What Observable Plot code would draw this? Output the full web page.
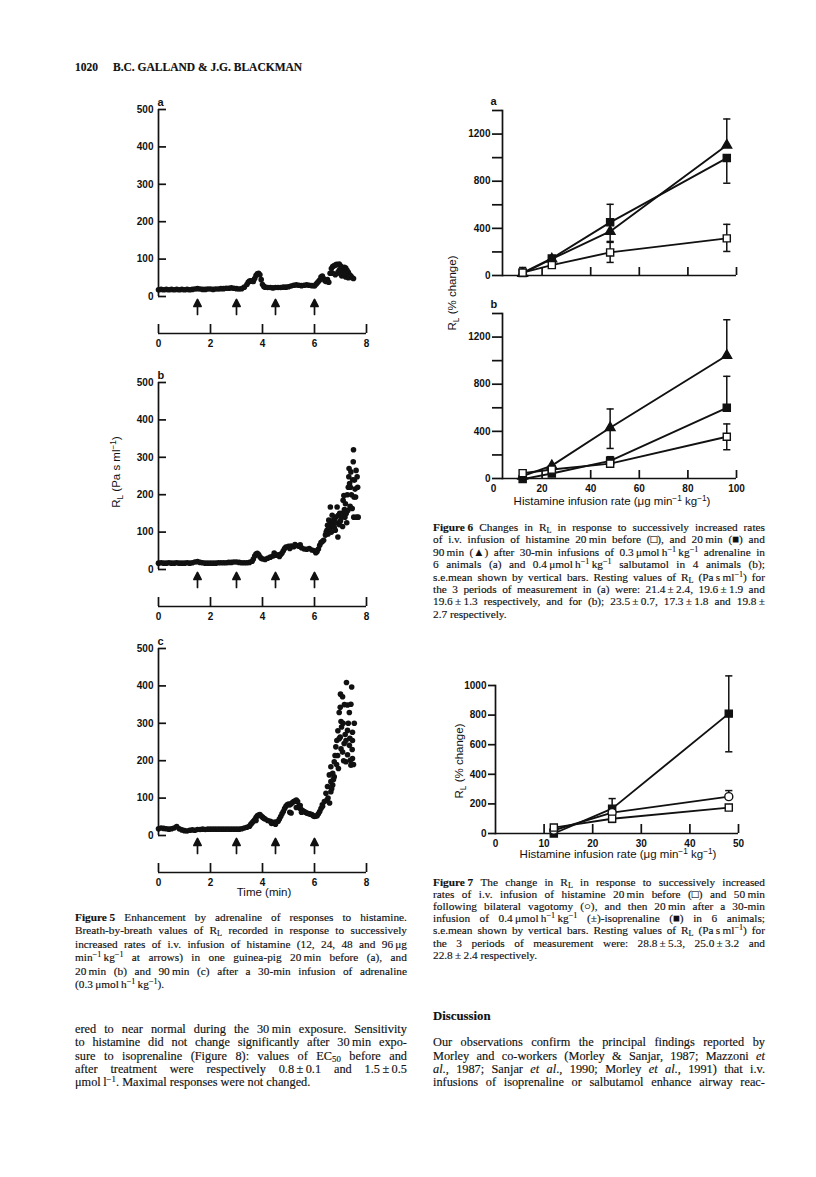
<!DOCTYPE html>
<html>
<head>
<meta charset="utf-8">
<script src="https://cdn.jsdelivr.net/npm/d3@7"></script>
<script src="https://cdn.jsdelivr.net/npm/@observablehq/plot@0.6"></script>
<style>
  html, body { margin: 0; padding: 0; background: #fff; }
  #page { position: relative; width: 816px; height: 1177px; background: #fff; overflow: hidden; color: #111; }
  .serif { font-family: "Liberation Serif", "Times New Roman", "DejaVu Serif", serif; -webkit-text-stroke: 0.15px #111; }
  .sans { font-family: "Liberation Sans", Arial, Helvetica, sans-serif; }
  .ln { position: absolute; white-space: nowrap; }
  .jl { display: flex; justify-content: space-between; gap: 0.22em; }
  sub { font-size: 0.72em; vertical-align: -0.28em; line-height: 0; }
  sup { font-size: 0.72em; vertical-align: 0.5em; line-height: 0; }
  .lab { position: absolute; white-space: nowrap; line-height: 1; }
</style>
</head>
<body>
<div id="page"></div>
<script>
// ---------------- DATA ----------------
// Figure 5: breath-by-breath RL (Pa s ml-1) against time (min)
const fig5a = [
[0,18],[0.1,19],[0.2,18],[0.3,19],[0.4,18],[0.5,19],[0.6,18],[0.7,19],[0.8,18],[0.9,19],
[1.0,18],[1.1,19],[1.2,18],[1.3,19],[1.4,20],[1.5,21],[1.6,20],[1.7,19],[1.8,19],[1.9,20],
[2.0,20],[2.1,19],[2.2,20],[2.3,20],[2.4,21],[2.5,21],[2.6,22],[2.7,22],[2.8,23],[2.9,22],
[3.0,21],[3.1,20],[3.2,21],[3.3,25],[3.4,32],[3.45,38],[3.5,41],[3.55,42],[3.6,41],[3.65,40],
[3.7,48],[3.75,56],[3.8,61],[3.85,62],[3.9,58],[3.95,45],[4.0,32],[4.05,27],[4.1,25],[4.2,24],
[4.3,24],[4.4,23],[4.5,24],[4.6,24],[4.7,24],[4.8,25],[4.9,25],[5.0,26],[5.1,28],[5.2,30],
[5.3,31],[5.4,30],[5.5,29],[5.6,30],[5.7,31],[5.8,30],[5.9,29],[6.0,28],[6.05,32],[6.1,36],
[6.15,40],[6.2,44],[6.25,52],[6.3,55],[6.35,48],[6.4,42],[6.45,40],[6.5,45],[6.55,38],[6.6,62],
[6.65,75],[6.7,80],[6.75,82],[6.8,84],[6.85,86],[6.9,85],[6.95,87],[7.0,82],[7.05,78],[7.1,72],
[7.15,78],[7.2,76],[7.25,70],[7.3,65],[7.35,58],[7.4,55],[7.45,50],[7.5,48],
[6.7,62],[6.8,58],[6.9,65],[7.0,60],[7.05,55],[7.15,58],[7.2,52],[7.3,50],[6.95,70],[7.1,62]
];
const fig5b = [
[0,17],[0.1,18],[0.2,17],[0.3,17],[0.4,18],[0.5,17],[0.6,17],[0.7,18],[0.8,17],[0.9,17],
[1.0,17],[1.1,18],[1.2,17],[1.3,18],[1.4,20],[1.5,21],[1.6,19],[1.7,18],[1.8,17],[1.9,17],
[2.0,17],[2.1,17],[2.2,17],[2.3,18],[2.4,18],[2.5,18],[2.6,18],[2.7,19],[2.8,19],[2.9,20],
[3.0,20],[3.1,19],[3.2,18],[3.3,18],[3.4,18],[3.5,19],[3.6,22],[3.65,28],[3.7,36],[3.75,41],
[3.8,43],[3.85,40],[3.9,34],[3.95,30],[4.0,28],[4.1,27],[4.2,30],[4.3,33],[4.4,36],[4.5,38],
[4.6,39],[4.7,40],[4.75,44],[4.8,50],[4.85,56],[4.9,60],[5.0,62],[5.1,63],[5.2,61],[5.3,64],
[5.4,62],[5.5,58],[5.6,55],[5.7,54],[5.8,56],[5.9,52],[6.0,50],[6.05,45],[6.1,48],[6.15,55],
[6.2,65],[6.25,72],[6.3,75],[6.35,78],
[5.05,56],[5.25,67],[5.45,66],[4.45,44],[4.65,35],
[6.42,92],[6.45,100],[6.48,105],[6.5,118],[6.52,95],[6.55,132],[6.58,110],[6.61,167],[6.62,120],[6.65,100],
[6.68,145],[6.7,118],[6.72,130],[6.74,132],[6.76,112],[6.8,105],[6.82,140],[6.85,125],[6.87,167],[6.9,87],
[6.92,145],[6.95,120],[6.97,150],[7.0,130],[7.03,140],[7.06,150],[7.08,115],[7.1,185],[7.13,198],[7.15,160],
[7.17,140],[7.19,176],[7.22,150],[7.24,125],[7.26,200],[7.28,158],[7.3,220],[7.32,248],[7.33,270],[7.35,230],
[7.37,169],[7.38,220],[7.4,261],[7.42,200],[7.45,163],[7.47,240],[7.49,288],[7.5,320],[7.51,140],[7.52,194],
[7.54,239],[7.56,215],[7.58,194],[7.6,265],[7.62,140],[7.64,248],[7.66,220],[7.68,140]
];
const fig5c = [
[0,18],[0.1,20],[0.2,19],[0.3,18],[0.4,17],[0.5,18],[0.6,20],[0.7,24],[0.8,18],[0.9,15],
[1.0,13],[1.1,12],[1.2,14],[1.3,15],[1.4,14],[1.5,16],[1.6,16],[1.7,17],[1.8,16],[1.9,17],
[2.0,17],[2.1,17],[2.2,17],[2.3,17],[2.4,17],[2.5,17],[2.6,17],[2.7,17],[2.8,17],[2.9,17],
[3.0,17],[3.1,17],[3.2,18],[3.3,20],[3.4,22],[3.5,25],[3.55,30],[3.6,34],[3.65,38],[3.7,42],
[3.75,48],[3.8,53],[3.85,55],[3.9,56],[3.95,52],[4.0,49],[4.05,46],[4.1,44],[4.2,40],[4.3,38],
[4.4,35],[4.45,34],[4.5,36],[4.6,38],[4.65,44],[4.7,51],[4.75,58],[4.8,64],[4.85,72],[4.9,78],
[4.95,82],[5.0,84],[5.05,82],[5.1,85],[5.15,88],[5.2,91],[5.25,92],[5.3,95],[5.35,91],[5.4,78],
[5.45,72],[5.5,69],[5.55,66],[5.6,64],[5.65,62],[5.7,60],[5.75,59],[5.8,58],[5.85,57],[5.9,56],
[5.95,53],[6.0,51],[6.05,52],[6.1,53],[6.15,58],[6.2,64],[6.25,72],[6.3,82],
[5.05,62],[5.1,60],[5.45,80],[5.5,62],[5.3,75],[4.35,32],[4.5,30],[3.75,40],
[6.31,78],[6.38,91],[6.44,113],[6.48,95],[6.5,131],[6.57,162],[6.58,87],[6.63,117],[6.63,144],[6.63,184],
[6.7,166],[6.7,135],[6.76,157],[6.76,197],[6.79,214],[6.82,237],[6.86,254],[6.89,214],[6.92,179],[6.95,259],
[6.95,329],[6.99,263],[6.99,343],[7.0,378],[7.02,232],[7.02,305],[7.04,290],[7.08,371],[7.08,223],[7.14,246],
[7.21,254],[7.21,197],[7.23,409],[7.27,349],[7.27,281],[7.27,216],[7.34,329],[7.34,241],[7.38,201],[7.4,351],
[7.4,188],[7.43,397],[7.46,276],[7.46,254],[7.46,206],[7.53,300],[6.52,100],[6.66,125],[6.73,150],[6.85,190],
[6.9,280],[7.1,300],[7.15,350],[7.18,270],[7.3,300],[7.36,260],[7.45,230],[7.5,190],[7.12,200]
];
const infusionTimes = [1.5, 3, 4.5, 6];
const fig5YTicks = [0, 100, 200, 300, 400, 500];
const fig5XTicks = [0, 2, 4, 6, 8];

// Figure 6: RL (% change) vs histamine infusion rate
const doses6 = [12, 24, 48, 96];
const a_before = [25, 88, 196, 315];
const a_before_lo = [25, 88, 111, 204];
const a_before_hi = [68, 88, 281, 434];
const a_20 = [22, 145, 451, 996];
const a_20_lo = [22, 145, 451, 783];
const a_20_hi = [22, 145, 604, 996];
const a_90 = [18, 140, 374, 1106];
const a_90_lo = [18, 140, 289, 1106];
const a_90_hi = [18, 140, 374, 1328];
const b_before = [45, 76, 126, 354];
const b_before_lo = [45, 76, 126, 244];
const b_before_hi = [45, 76, 126, 463];
const b_20 = [-5, 42, 150, 600];
const b_20_lo = [-5, 42, 150, 600];
const b_20_hi = [-5, 42, 185, 867];
const b_90 = [20, 109, 430, 1044];
const b_90_lo = [20, 109, 255, 1044];
const b_90_hi = [20, 109, 590, 1347];
const fig6YTicks = [0, 200, 400, 600, 800, 1000, 1200, 1400];
const fig6YLabels = [0, 400, 800, 1200];
const fig6XTicks = [20, 40, 60, 80, 100];
const fig6XLabels = [0, 20, 40, 60, 80, 100];

// Figure 7
const doses7 = [12, 24, 48];
const c_before = [40, 100, 175];
const c_before_lo = [40, 75, 175];
const c_before_hi = [40, 100, 175];
const c_vag = [22, 141, 249];
const c_vag_lo = [22, 141, 249];
const c_vag_hi = [22, 141, 290];
const c_iso = [0, 168, 810];
const c_iso_lo = [0, 168, 552];
const c_iso_hi = [0, 236, 1065];
const fig7YTicks = [0, 200, 400, 600, 800, 1000];
const fig7XTicks = [10, 20, 30, 40, 50];
const fig7XLabels = [0, 10, 20, 30, 40, 50];

// ---------------- DRAWING ----------------
const ink = "#111";
const fontSans = "'Liberation Sans', Arial, Helvetica, sans-serif";
const page = document.getElementById("page");

function place(el, left, top) {
  el.style.position = "absolute";
  el.style.left = left + "px";
  el.style.top = top + "px";
  el.style.maxWidth = "none";
  el.style.background = "transparent";
  page.appendChild(el);
}

const arrowShape = {
  draw(ctx, l) {
    const h = 7, w = 3.6;
    ctx.moveTo(0, 0); ctx.lineTo(0, -l + h);
    ctx.moveTo(-w, -l + h); ctx.lineTo(0, -l); ctx.lineTo(w, -l + h); ctx.closePath();
  }
};
const capSymbol = {
  draw(ctx, size) { const w = Math.sqrt(size / Math.PI); ctx.moveTo(-w, 0); ctx.lineTo(w, 0); }
};

const plotStyle = {fontFamily: fontSans, fontSize: "10px", fontWeight: "bold", color: ink, background: "transparent"};

function fig5Panel(pairs, label, plotH) {
  const pts = pairs.map(([t, v]) => ({t, v}));
  const W = 280, mL = 58, mR = 14, mT = 14, mB = 56;
  return Plot.plot({
    width: W, height: mT + plotH + mB,
    marginLeft: mL, marginRight: mR, marginTop: mT, marginBottom: mB,
    x: {domain: [0, 8], axis: null},
    y: {domain: [0, 500], axis: null},
    style: plotStyle,
    marks: [
      Plot.ruleX([0], {stroke: ink, strokeWidth: 1.7}),
      Plot.tickY(fig5YTicks, {y: d => d, stroke: ink, strokeWidth: 1.7, insetRight: (W - mL - mR) - 8}),
      Plot.axisY({ticks: fig5YTicks, tickSize: 0, tickPadding: 5, label: null}),
      Plot.dot(pts, {x: "t", y: "v", r: 2.8, fill: ink}),
      Plot.vector(infusionTimes, {x: d => d, frameAnchor: "bottom", dy: 18, length: 15, rotate: 0, anchor: "start", shape: arrowShape, stroke: ink, fill: ink, strokeWidth: 1.7}),
      Plot.ruleY([0], {dy: 37, stroke: ink, strokeWidth: 1.7}),
      Plot.tickX(fig5XTicks, {x: d => d, dy: 37, insetTop: plotH - 9, stroke: ink, strokeWidth: 1.7}),
      Plot.axisX({ticks: fig5XTicks, tickSize: 0, tickPadding: 6, dy: 37, label: null}),
      Plot.text([label], {frameAnchor: "top-left", dx: -1, dy: -4, lineAnchor: "bottom", textAnchor: "start", fontSize: 11, fontWeight: "bold", fill: ink})
    ]
  });
}

function seriesMarks(doses, series) {
  const rows = [];
  series.forEach((s, k) => doses.forEach((d, i) => rows.push({k, dose: d, v: s.values[i], lo: s.lo[i], hi: s.hi[i]})));
  const bars = rows.filter(r => r.lo !== r.hi);
  const caps = [];
  bars.forEach(r => {
    if (r.lo !== r.v) caps.push({dose: r.dose, y: r.lo});
    if (r.hi !== r.v) caps.push({dose: r.dose, y: r.hi});
  });
  const marks = [
    Plot.line(rows, {x: "dose", y: "v", z: "k", stroke: ink, strokeWidth: 1.9}),
    Plot.ruleX(bars, {x: "dose", y1: "lo", y2: "hi", stroke: ink, strokeWidth: 1.5}),
    Plot.dot(caps, {x: "dose", y: "y", symbol: capSymbol, r: 3.6, stroke: ink, strokeWidth: 1.5, fill: "none"})
  ];
  series.forEach((s, k) => marks.push(
    Plot.dot(rows.filter(r => r.k === k), {x: "dose", y: "v", symbol: s.symbol, r: s.r, fill: s.fill, stroke: ink, strokeWidth: 1.4})
  ));
  return marks;
}

function fig6Panel(series, label, withLabels) {
  const W = 310, mL = 62, mR = 14, mT = 20, plotH = 165, mB = withLabels ? 30 : 5;
  const marks = [
    Plot.frame({anchor: "left", stroke: ink, strokeWidth: 1.7}),
    Plot.ruleY([0], {stroke: ink, strokeWidth: 1.7}),
    Plot.axisY({ticks: fig6YTicks, tickSize: 10, tickPadding: 2, stroke: ink, strokeWidth: 1.7,
      tickFormat: d => fig6YLabels.includes(d) ? String(d) : "", label: null}),
    Plot.tickX(fig6XTicks, {x: d => d, insetTop: plotH - 8, stroke: ink, strokeWidth: 1.7})
  ];
  if (withLabels) marks.push(Plot.axisX({ticks: fig6XLabels, tickSize: 0, tickPadding: 6, tickFormat: d => String(d), label: null}));
  marks.push(...seriesMarks(doses6, series));
  marks.push(Plot.text([label], {frameAnchor: "top-left", dx: -12, dy: -6, lineAnchor: "bottom", textAnchor: "start", fontSize: 11, fontWeight: "bold", fill: ink}));
  return Plot.plot({
    width: W, height: mT + plotH + mB,
    marginLeft: mL, marginRight: mR, marginTop: mT, marginBottom: mB,
    x: {domain: [0, 100], range: [53, 296], axis: null},
    y: {domain: [0, 1400], axis: null},
    style: plotStyle,
    marks
  });
}

function fig7Panel(series) {
  const W = 310, mL = 55, mR = 12, mT = 15, plotH = 148, mB = 22;
  const marks = [
    Plot.frame({anchor: "left", stroke: ink, strokeWidth: 1.7}),
    Plot.ruleY([0], {stroke: ink, strokeWidth: 1.7}),
    Plot.axisY({ticks: fig7YTicks, tickSize: 7, tickPadding: 2, stroke: ink, strokeWidth: 1.7, tickFormat: d => String(d), label: null}),
    Plot.tickX(fig7XTicks, {x: d => d, insetTop: plotH - 9, stroke: ink, strokeWidth: 1.7}),
    Plot.axisX({ticks: fig7XLabels, tickSize: 0, tickPadding: 6, tickFormat: d => String(d), label: null}),
    ...seriesMarks(doses7, series)
  ];
  return Plot.plot({
    width: W, height: mT + plotH + mB,
    marginLeft: mL, marginRight: mR, marginTop: mT, marginBottom: mB,
    x: {domain: [0, 50], axis: null},
    y: {domain: [0, 1000], axis: null},
    style: plotStyle,
    marks
  });
}

// Figure 5 panels
place(fig5Panel(fig5a, "a", 187), 100, 95);
place(fig5Panel(fig5b, "b", 187), 100, 368);
place(fig5Panel(fig5c, "c", 187), 100, 634);

// Figure 6 panels
const openSq = {symbol: "square", r: 4, fill: "white"};
const fillSq = {symbol: "square", r: 4, fill: ink};
const fillTri = {symbol: "triangle", r: 3.6, fill: ink};
const openCirc = {symbol: "circle", r: 4, fill: "white"};
place(fig6Panel([
  {...fillTri, values: a_90, lo: a_90_lo, hi: a_90_hi},
  {...fillSq, values: a_20, lo: a_20_lo, hi: a_20_hi},
  {...openSq, values: a_before, lo: a_before_lo, hi: a_before_hi}
], "a", false), 440, 90);
place(fig6Panel([
  {...fillTri, values: b_90, lo: b_90_lo, hi: b_90_hi},
  {...fillSq, values: b_20, lo: b_20_lo, hi: b_20_hi},
  {...openSq, values: b_before, lo: b_before_lo, hi: b_before_hi}
], "b", true), 440, 293);

// Figure 7
place(fig7Panel([
  {...fillSq, values: c_iso, lo: c_iso_lo, hi: c_iso_hi},
  {...openCirc, values: c_vag, lo: c_vag_lo, hi: c_vag_hi},
  {...openSq, values: c_before, lo: c_before_lo, hi: c_before_hi}
]), 440, 670);

// ---------------- TEXT ----------------
function addLabel(html, cx, cy, size, rotate) {
  const d = document.createElement("div");
  d.className = "lab sans";
  d.style.left = cx + "px";
  d.style.top = cy + "px";
  d.style.fontSize = size + "px";
  d.style.transform = "translate(-50%,-50%)" + (rotate ? " rotate(-90deg)" : "");
  d.innerHTML = html;
  page.appendChild(d);
}
function addPara(lines, o) {
  lines.forEach((line, i) => {
    const d = document.createElement("div");
    d.className = "ln serif";
    d.style.left = o.left + "px";
    d.style.top = (o.top + i * o.lh) + "px";
    d.style.width = o.width + "px";
    d.style.height = o.lh + "px";
    d.style.lineHeight = o.lh + "px";
    d.style.fontSize = o.size + "px";
    if (o.weight) d.style.fontWeight = o.weight;
    const plain = o.noJustify || (i === lines.length - 1 && !o.justifyLast);
    if (plain) {
      d.innerHTML = line;
    } else {
      d.classList.add("jl");
      line.split(" ").forEach(tok => {
        const s = document.createElement("span");
        s.innerHTML = tok;
        d.appendChild(s);
      });
    }
    page.appendChild(d);
  });
}

// Running head
addPara(["<b>1020</b>"], {left: 75, top: 60, width: 40, size: 11.5, lh: 14, noJustify: true});
addPara(["<b>B.C. GALLAND &amp; J.G. BLACKMAN</b>"], {left: 113, top: 60, width: 260, size: 11.5, lh: 14, noJustify: true});

// Axis titles
addLabel("R<sub>L</sub> (Pa s ml<sup>−1</sup>)", 117, 472, 11.5, true);
addLabel("Time (min)", 264, 893, 11.5, false);
addLabel("R<sub>L</sub> (% change)", 453, 293, 11.5, true);
addLabel("Histamine infusion rate (μg min<sup>−1</sup> kg<sup>−1</sup>)", 612, 502, 11.5, false);
addLabel("R<sub>L</sub> (% change)", 460, 761, 11.5, true);
addLabel("Histamine infusion rate (μg min<sup>−1</sup> kg<sup>−1</sup>)", 618, 855, 11.5, false);

// Captions
addPara([
  "<b>Figure&nbsp;5</b> Enhancement by adrenaline of responses to histamine.",
  "Breath-by-breath values of R<sub>L</sub> recorded in response to successively",
  "increased rates of i.v. infusion of histamine (12, 24, 48 and 96&thinsp;μg",
  "min<sup>−1</sup>&thinsp;kg<sup>−1</sup> at arrows) in one guinea-pig 20&thinsp;min before (a), and",
  "20&thinsp;min (b) and 90&thinsp;min (c) after a 30-min infusion of adrenaline",
  "(0.3&thinsp;μmol&thinsp;h<sup>−1</sup>&thinsp;kg<sup>−1</sup>)."
], {left: 75, top: 910.5, width: 332, size: 11.3, lh: 13.5});

addPara([
  "<b>Figure&nbsp;6</b> Changes in R<sub>L</sub> in response to successively increased rates",
  "of i.v. infusion of histamine 20&thinsp;min before (□), and 20&thinsp;min (■) and",
  "90&thinsp;min (▲) after 30-min infusions of 0.3&thinsp;μmol&thinsp;h<sup>−1</sup>&thinsp;kg<sup>−1</sup> adrenaline in",
  "6 animals (a) and 0.4&thinsp;μmol&thinsp;h<sup>−1</sup>&thinsp;kg<sup>−1</sup> salbutamol in 4 animals (b);",
  "s.e.mean shown by vertical bars. Resting values of R<sub>L</sub> (Pa&thinsp;s&thinsp;ml<sup>−1</sup>) for",
  "the 3 periods of measurement in (a) were: 21.4&thinsp;±&thinsp;2.4, 19.6&thinsp;±&thinsp;1.9 and",
  "19.6&thinsp;±&thinsp;1.3 respectively, and for (b); 23.5&thinsp;±&thinsp;0.7, 17.3&thinsp;±&thinsp;1.8 and 19.8&thinsp;±",
  "2.7 respectively."
], {left: 433, top: 521, width: 332, size: 11.3, lh: 12.4});

addPara([
  "<b>Figure&nbsp;7</b> The change in R<sub>L</sub> in response to successively increased",
  "rates of i.v. infusion of histamine 20&thinsp;min before (□) and 50&thinsp;min",
  "following bilateral vagotomy (○), and then 20&thinsp;min after a 30-min",
  "infusion of 0.4&thinsp;μmol&thinsp;h<sup>−1</sup>&thinsp;kg<sup>−1</sup> (±)-isoprenaline (■) in 6 animals;",
  "s.e.mean shown by vertical bars. Resting values of R<sub>L</sub> (Pa&thinsp;s&thinsp;ml<sup>−1</sup>) for",
  "the 3 periods of measurement were: 28.8&thinsp;±&thinsp;5.3, 25.0&thinsp;±&thinsp;3.2 and",
  "22.8&thinsp;±&thinsp;2.4 respectively."
], {left: 433, top: 876, width: 332, size: 11.3, lh: 12.1});

// Body text
addPara([
  "ered to near normal during the 30&thinsp;min exposure. Sensitivity",
  "to histamine did not change significantly after 30&thinsp;min expo-",
  "sure to isoprenaline (Figure 8): values of EC<sub>50</sub> before and",
  "after treatment were respectively 0.8&thinsp;±&thinsp;0.1 and 1.5&thinsp;±&thinsp;0.5",
  "μmol&thinsp;l<sup>−1</sup>. Maximal responses were not changed."
], {left: 75, top: 1022.7, width: 332, size: 12.3, lh: 13.4});

addPara(["<b>Discussion</b>"], {left: 433, top: 1009, width: 200, size: 12.8, lh: 14, noJustify: true});

addPara([
  "Our observations confirm the principal findings reported by",
  "Morley and co-workers (Morley &amp; Sanjar, 1987; Mazzoni <i>et</i>",
  "<i>al</i>., 1987; Sanjar <i>et</i> <i>al</i>., 1990; Morley <i>et</i> <i>al</i>., 1991) that i.v.",
  "infusions of isoprenaline or salbutamol enhance airway reac-"
], {left: 433, top: 1036.1, width: 332, size: 12.3, lh: 13.4, justifyLast: true});
</script>
</body>
</html>
